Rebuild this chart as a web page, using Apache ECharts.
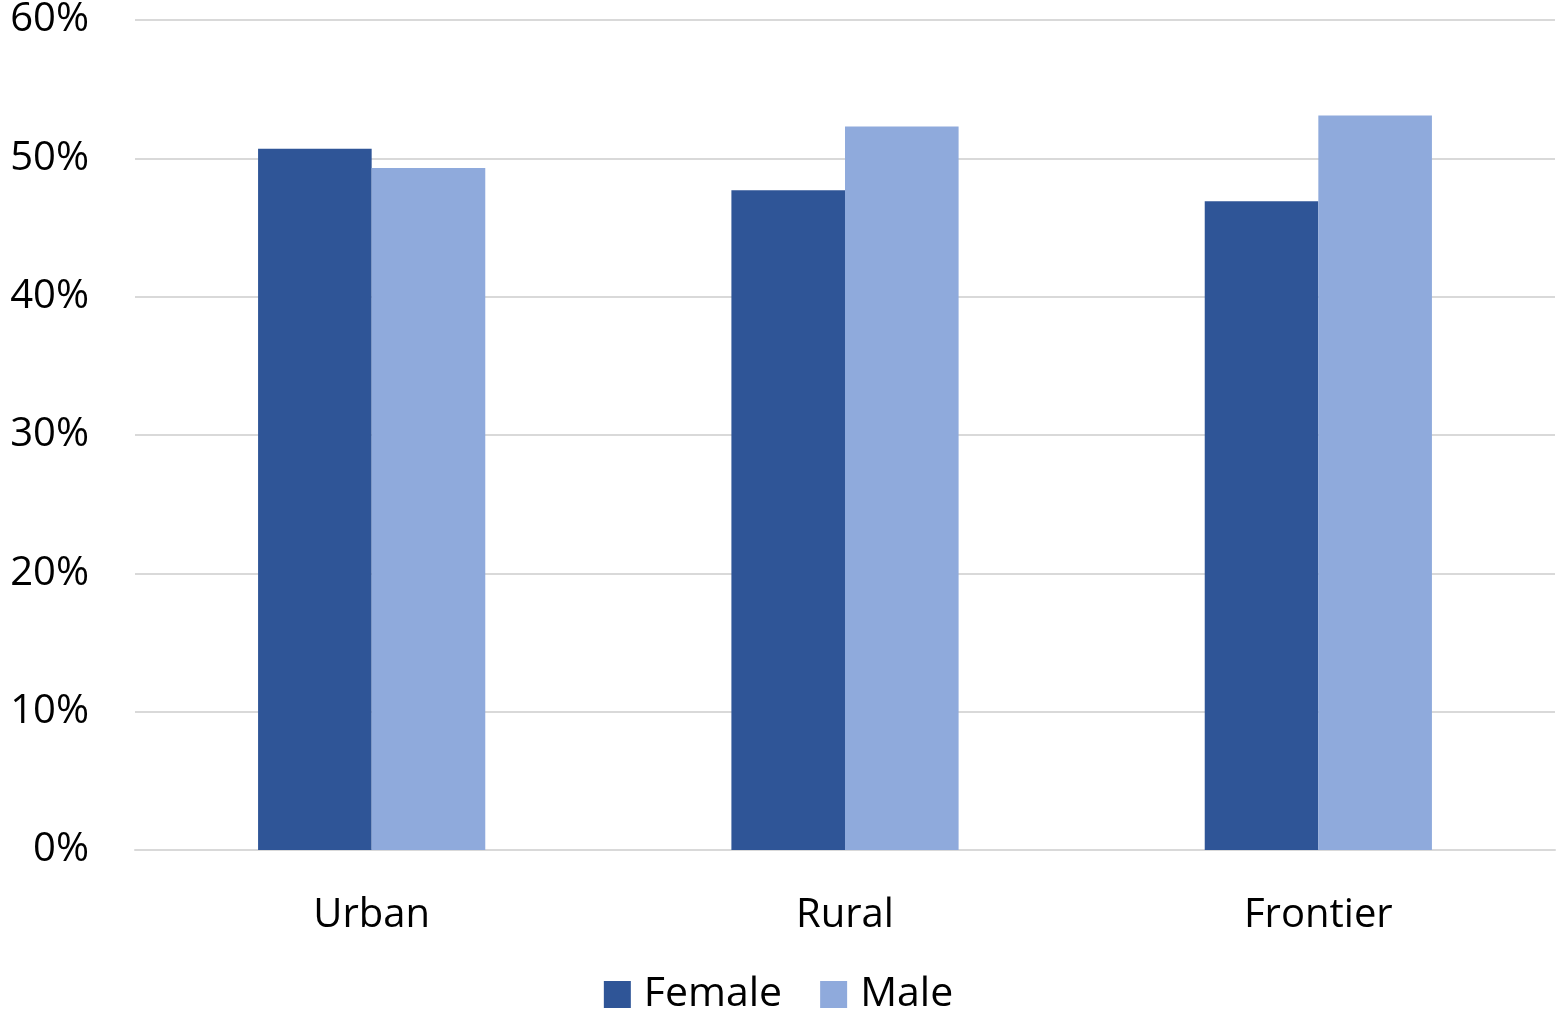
<!DOCTYPE html>
<html><head><meta charset="utf-8">
<script src="https://cdn.jsdelivr.net/npm/echarts@6/dist/echarts.min.js"></script>
<style>html,body{margin:0;padding:0;background:#fff}#c{width:1557px;height:1015px}</style>
</head><body><div id="c"></div>
<script>
const categories = ["Urban", "Rural", "Frontier"];
const femaleValues = [50.7, 47.7, 46.9];
const maleValues = [49.3, 52.3, 53.1];
const seriesNames = ["Female", "Male"];

const chart = echarts.init(document.getElementById('c'));
const FONT = '"Open Sans", sans-serif';
chart.setOption({
  animation: false,
  textStyle: { fontFamily: FONT },
  grid: { left: 135, right: 2, top: 20, bottom: 165 },
  legend: {
    data: seriesNames, bottom: -5, left: 'center', icon: 'rect',
    itemWidth: 27, itemHeight: 27, itemGap: 38,
    textStyle: { fontSize: 41, color: '#000', fontFamily: FONT, padding: [0, 0, 0, 8] }
  },
  xAxis: {
    type: 'category', data: categories,
    axisLine: { lineStyle: { color: '#D9D9D9', width: 2 } },
    axisTick: { show: false },
    axisLabel: { fontSize: 40, color: '#000', margin: 46, fontFamily: FONT }
  },
  yAxis: {
    type: 'value', min: 0, max: 60, interval: 10,
    axisLine: { show: false }, axisTick: { show: false },
    splitLine: { lineStyle: { color: '#D9D9D9', width: 2 } },
    axisLabel: { fontSize: 40, color: '#000', margin: 46, formatter: v => v + '%', fontFamily: FONT }
  },
  series: [
    { name: seriesNames[0], type: 'bar', data: femaleValues, barGap: '0%', barCategoryGap: '52%', itemStyle: { color: '#2F5597' } },
    { name: seriesNames[1], type: 'bar', data: maleValues, itemStyle: { color: '#8FAADC' } }
  ]
});
</script></body></html>
